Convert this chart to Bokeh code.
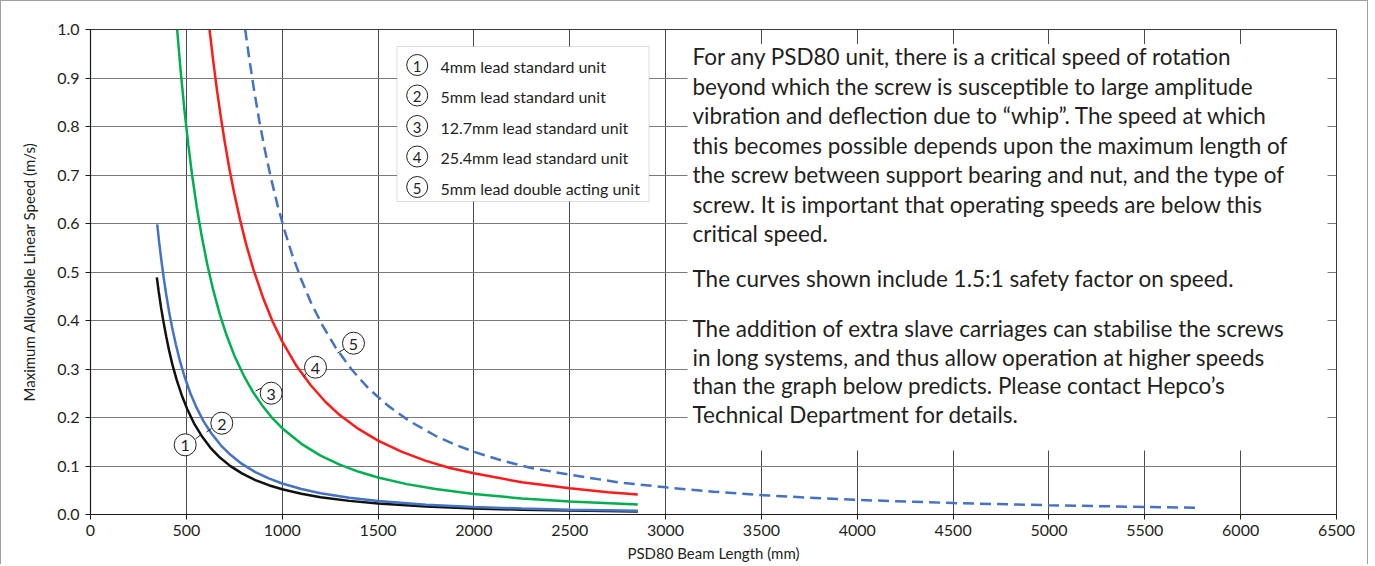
import numpy as np
from bokeh.plotting import figure
from bokeh.models import Range1d, FixedTicker, BoxAnnotation, Label, ColumnDataSource
from bokeh.embed import file_html
from bokeh.resources import INLINE
from bokeh.core.properties import value

# ---------------- data ----------------
x_ticks = [0, 500, 1000, 1500, 2000, 2500, 3000, 3500, 4000, 4500, 5000, 5500, 6000, 6500]
y_ticks = [0.0, 0.1, 0.2, 0.3, 0.4, 0.5, 0.6, 0.7, 0.8, 0.9, 1.0]
y_tick_labels = ["0.0", "0.1", "0.2", "0.3", "0.4", "0.5", "0.6", "0.7", "0.8", "0.9", "1.0"]

# 1: 4mm lead standard unit (black)
len1 = [346, 356, 368, 380, 395, 410, 428, 450, 475, 505, 540, 580, 625, 675, 730, 790, 860, 930,
        1000, 1100, 1200, 1350, 1500, 1750, 2000, 2250, 2500, 2855]
spd1 = [0.489, 0.459, 0.427, 0.399, 0.367, 0.338, 0.308, 0.277, 0.247, 0.217, 0.188, 0.162, 0.138,
        0.1175, 0.0998, 0.0847, 0.071, 0.0604, 0.052, 0.0427, 0.0357, 0.0281, 0.0226, 0.0165,
        0.0126, 0.0099, 0.0080, 0.0061]

# 2: 5mm lead standard unit (blue)
len2 = [348, 358, 370, 382, 395, 410, 425, 445, 465, 490, 520, 550, 590, 630, 680, 730, 790, 860,
        930, 1000, 1100, 1200, 1350, 1500, 1750, 2000, 2250, 2500, 2855]
spd2 = [0.598, 0.562, 0.523, 0.488, 0.4535, 0.418, 0.387, 0.351, 0.319, 0.285, 0.251, 0.223,
        0.192, 0.1675, 0.1427, 0.123, 0.1043, 0.0874, 0.0744, 0.064, 0.0526, 0.044, 0.0345,
        0.0278, 0.0203, 0.0155, 0.0122, 0.0099, 0.0075]

# 3: 12.7mm lead standard unit (green)
len3 = [452, 470, 490, 510, 530, 555, 580, 610, 640, 675, 710, 750, 800, 850, 900, 950, 1000,
        1100, 1200, 1300, 1400, 1500, 1650, 1800, 2000, 2250, 2500, 2855]
spd3 = [1.0, 0.916, 0.834, 0.763, 0.700, 0.632, 0.574, 0.514, 0.463, 0.412, 0.3695, 0.328, 0.286,
        0.251, 0.2225, 0.198, 0.178, 0.1457, 0.1214, 0.1027, 0.088, 0.0763, 0.0626, 0.0524,
        0.0422, 0.0331, 0.0267, 0.0204]

# 4: 25.4mm lead standard unit (red)
len4 = [621, 640, 660, 680, 700, 725, 750, 780, 810, 850, 900, 950, 1000, 1075, 1150, 1225, 1300,
        1400, 1500, 1625, 1750, 1875, 2000, 2250, 2500, 2700, 2855]
spd4 = [1.0, 0.936, 0.8745, 0.819, 0.769, 0.712, 0.662, 0.608, 0.560, 0.505, 0.447, 0.398, 0.357,
        0.306, 0.266, 0.2325, 0.205, 0.176, 0.1523, 0.129, 0.1106, 0.096, 0.085, 0.0665, 0.054,
        0.0458, 0.041]

# 5: 5mm lead double acting unit (blue dashed)
len5 = [807, 830, 855, 880, 910, 940, 975, 1010, 1050, 1100, 1150, 1210, 1280, 1360, 1450, 1550,
        1664, 1800, 1900, 2000, 2150, 2300, 2500, 2750, 3000, 3250, 3500, 3750, 4000, 4500, 5000,
        5500, 5775]
spd5 = [1.0, 0.935, 0.871, 0.813, 0.751, 0.696, 0.639, 0.589, 0.538, 0.484, 0.437, 0.390, 0.3435,
        0.300, 0.260, 0.225, 0.1925, 0.1623, 0.1444, 0.1293, 0.1107, 0.096, 0.082, 0.0665, 0.056,
        0.047, 0.040, 0.0346, 0.0301, 0.0236, 0.0190, 0.0156, 0.0141]

series_numbers = ["1", "2", "3", "4", "5"]
legend_names = ["4mm lead standard unit", "5mm lead standard unit", "12.7mm lead standard unit",
                "25.4mm lead standard unit", "5mm lead double acting unit"]

para1 = ["For any PSD80 unit, there is a critical speed of rotation",
         "beyond which the screw is susceptible to large amplitude",
         "vibration and deflection due to \u201cwhip\u201d. The speed at which",
         "this becomes possible depends upon the maximum length of",
         "the screw between support bearing and nut, and the type of",
         "screw. It is important that operating speeds are below this",
         "critical speed."]
para2 = ["The curves shown include 1.5:1 safety factor on speed."]
para3 = ["The addition of extra slave carriages can stabilise the screws",
         "in long systems, and thus allow operation at higher speeds",
         "than the graph below predicts. Please contact Hepco\u2019s",
         "Technical Department for details."]

# ---------------- layout helpers (pixel positions of annotations) ----------------
X0, X1, Y0, Y1 = 91, 1337, 513, 28
XS = (X1 - X0) / 6500.0
YS = (Y0 - Y1) / 1.0

def dx(px):
    return (px - X0) / XS

def dy(py):
    return (Y0 - py) / YS

FONT = "Lato"
TXT = "#231f20"

p = figure(frame_width=X1 - X0, frame_height=Y0 - Y1,
           x_range=Range1d(0, 6500), y_range=Range1d(0, 1.0),
           output_backend="svg", toolbar_location=None,
           min_border_left=89, min_border_right=31,
           min_border_top=28, min_border_bottom=45)
p.styles = {"border-left": "1px solid #a0a0a0", "border-top": "1px solid #a0a0a0",
            "border-right": "1px solid #a0a0a0"}
p.background_fill_color = "white"
p.border_fill_color = "white"
p.outline_line_color = "#3a3a3a"
p.outline_line_width = 1

# grid
p.xgrid.ticker = FixedTicker(ticks=x_ticks)
p.ygrid.ticker = FixedTicker(ticks=y_ticks)
p.xgrid.grid_line_color = "#4a4a4a"
p.ygrid.grid_line_color = "#7a7a7a"
p.xgrid.grid_line_width = 1
p.ygrid.grid_line_width = 1

# axes
for ax in (p.xaxis[0], p.yaxis[0]):
    ax.axis_line_color = "#1a1a1a"
    ax.axis_line_width = 1.2
    ax.major_tick_line_color = "#1a1a1a"
    ax.major_tick_out = 5
    ax.major_tick_in = 0
    ax.minor_tick_line_color = None
    ax.major_label_text_font = FONT
    ax.major_label_text_font_size = "16px"
    ax.major_label_text_color = TXT
    ax.axis_label_text_font = FONT
    ax.axis_label_text_font_size = "15px"
    ax.axis_label_text_font_style = "normal"
    ax.axis_label_text_color = TXT

p.xaxis.ticker = FixedTicker(ticks=x_ticks)
p.yaxis.ticker = FixedTicker(ticks=y_ticks)
p.yaxis.major_label_overrides = {t: l for t, l in zip(y_ticks, y_tick_labels)}
p.xaxis.major_label_standoff = 5
p.yaxis.major_label_standoff = 6
p.xaxis.axis_label = "PSD80 Beam Length (mm)"
p.yaxis.axis_label = "Maximum Allowable Linear Speed (m/s)"
p.xaxis.axis_label_standoff = 5
p.yaxis.axis_label_standoff = 16

# white panels behind text (drawn over grid, under glyphs)
p.add_layout(BoxAnnotation(left=dx(688), right=dx(1328), top=dy(42.5), bottom=dy(449),
                           fill_color="white", fill_alpha=1.0, line_color=None, level="underlay"))
p.add_layout(BoxAnnotation(left=dx(397.5), right=dx(649.5), top=dy(45), bottom=dy(200),
                           fill_color="white", fill_alpha=1.0, line_color="#8c8c8c", line_width=1,
                           level="underlay"))

# curves
LW = 2.5
p.line(len1, spd1, line_color="#111111", line_width=LW)
p.line(len2, spd2, line_color="#4472c4", line_width=LW)
p.line(len3, spd3, line_color="#00b050", line_width=LW)
p.line(len4, spd4, line_color="#ff1a1a", line_width=LW)
p.line(len5, spd5, line_color="#4472c4", line_width=LW, line_dash="11 6")

# curve number labels with leaders (pixel positions)
lab_px = [185.7, 222.3, 271.7, 316.0, 354.0]
lab_py = [443.3, 421.7, 391.7, 365.7, 341.7]
lead_from = [(196.0, 437.5), (212.0, 427.0), (262.0, 386.5), (307.0, 371.5), (345.0, 347.5)]
lead_to = [(201.0, 433.5), (207.0, 430.5), (256.0, 389.5), (304.0, 375.5), (338.0, 351.5)]
p.segment(x0=[dx(a[0]) for a in lead_from], y0=[dy(a[1]) for a in lead_from],
          x1=[dx(b[0]) for b in lead_to], y1=[dy(b[1]) for b in lead_to],
          line_color="#222222", line_width=1)
lab_src = ColumnDataSource(dict(x=[dx(v) for v in lab_px], y=[dy(v) for v in lab_py], t=series_numbers))
p.scatter("x", "y", source=lab_src, marker="circle", size=22, fill_color="white",
          line_color="#222222", line_width=1)
p.text("x", "y", text="t", source=lab_src, text_align="center", text_baseline="middle",
       text_font=value(FONT), text_font_size="16px", text_color=TXT, y_offset=1)

# legend
leg_py = [63.5 + 30.5 * i for i in range(5)]
leg_src = ColumnDataSource(dict(cx=[dx(417.7)] * 5, tx=[dx(441)] * 5, y=[dy(v) for v in leg_py],
                                n=series_numbers, name=legend_names))
p.scatter("cx", "y", source=leg_src, marker="circle", size=21, fill_color="white",
          line_color="#222222", line_width=1)
p.text("cx", "y", text="n", source=leg_src, text_align="center", text_baseline="middle",
       text_font=value(FONT), text_font_size="15px", text_color=TXT, y_offset=1)
p.text("tx", "y", text="name", source=leg_src, text_align="left", text_baseline="middle",
       text_font=value(FONT), text_font_size="16px", text_color=TXT, y_offset=1)

# text panel lines
lines = []
for i, t in enumerate(para1):
    lines.append((t, 55 + 29.5 * i))
lines.append((para2[0], 277))
for i, t in enumerate(para3):
    lines.append((t, 327 + 28.5 * i))
for t, py in lines:
    p.add_layout(Label(x=dx(693), y=dy(py), text=t, text_align="left", text_baseline="middle",
                       text_font=FONT, text_font_size="22.5px", text_color=TXT))

open("out.html", "w").write(file_html(p, INLINE))
